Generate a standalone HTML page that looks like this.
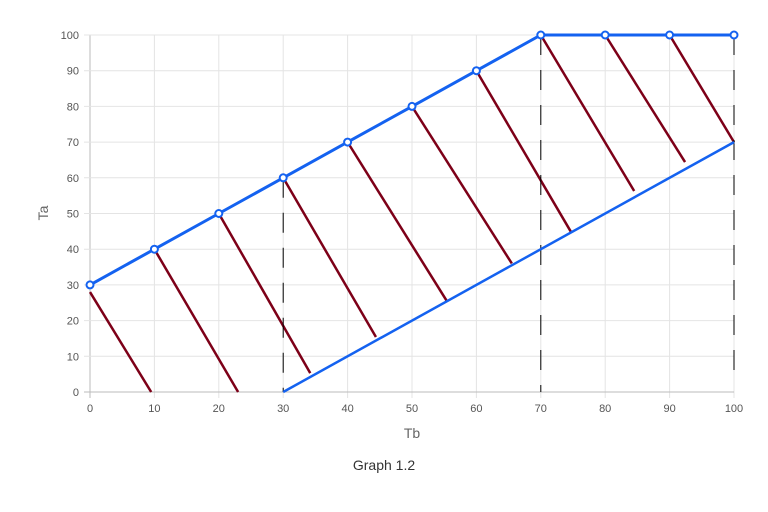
<!DOCTYPE html>
<html><head><meta charset="utf-8"><style>
html,body{margin:0;padding:0;background:#fff;width:768px;height:512px;overflow:hidden}
text{font-family:"Liberation Sans",Arial,sans-serif}
</style></head><body>
<svg id="chart" width="768" height="512" xmlns="http://www.w3.org/2000/svg">
<g id="grid"></g>
<g id="ticks"></g>
<g id="series"></g>
<text x="412" y="438" font-size="14" fill="#666" text-anchor="middle">Tb</text>
<text x="48" y="213" font-size="14" fill="#666" text-anchor="middle" transform="rotate(-90 48 213)">Ta</text>
<text x="384" y="470" font-size="14" fill="#333" text-anchor="middle">Graph 1.2</text>
</svg>
<script>
const xTicks=[0,10,20,30,40,50,60,70,80,90,100];
const yTicks=[0,10,20,30,40,50,60,70,80,90,100];
const upperX=[0,10,20,30,40,50,60,70,80,90,100];
const upperY=[30,40,50,60,70,80,90,100,100,100,100];
const lowerX=[30,100];
const lowerY=[0,70];
const dashX=[30,70,100];
const dashTop=[60,100,100];
const dashBottom=[0,0,3];
const redX1=[0,10,20,30,40,50,60,70,80,90];
const redY1=[28,40,50,60,70,80,90,100,100,100];
const redX2=[9.5,23,34.2,44.4,55.4,65.5,74.7,84.5,92.4,100];
const redY2=[0,0,5.3,15.4,25.5,36,44.8,56.3,64.4,70];
const X0=90,X1=734,Y0=392,Y1=35;
const sx=v=>X0+(v-0)/100*(X1-X0);
const sy=v=>Y0-(v-0)/100*(Y0-Y1);
const NS="http://www.w3.org/2000/svg";
function mk(tag,attrs,parent){const e=document.createElementNS(NS,tag);for(const k in attrs)e.setAttribute(k,attrs[k]);parent.appendChild(e);return e;}
const grid=document.getElementById('grid'),ticks=document.getElementById('ticks'),series=document.getElementById('series');
xTicks.forEach(t=>{
  const l=mk('line',{x1:sx(t),x2:sx(t),y1:Y1,y2:Y0+6,stroke:t===0?'#bbb':'#e4e4e4','stroke-width':1},grid);
  
  
  const tx=mk('text',{x:sx(t),y:Y0+20,'font-size':11,fill:'#555','text-anchor':'middle'},ticks);
  tx.textContent=t;
  
  
});
yTicks.forEach(t=>{
  const l=mk('line',{x1:X0-6,x2:X1,y1:sy(t),y2:sy(t),stroke:t===0?'#bbb':'#e4e4e4','stroke-width':1},grid);
  
  
  const tx=mk('text',{x:X0-11,y:sy(t)+4,'font-size':11,fill:'#555','text-anchor':'end'},ticks);
  tx.textContent=t;
  
  
});
redX1.forEach((v,i)=>{
  const l=mk('line',{x1:sx(v),y1:sy(redY1[i]),x2:sx(redX2[i]),y2:sy(redY2[i]),stroke:'#7d0018','stroke-width':2.5},series);
  
  
});
dashX.forEach((v,i)=>{
  const l=mk('line',{x1:sx(v),y1:sy(dashTop[i]),x2:sx(v),y2:sy(dashBottom[i]),stroke:'#000','stroke-width':1,'stroke-dasharray':'20,15'},series);
  
  
});
const low=mk('polyline',{points:lowerX.map((v,i)=>sx(v)+','+sy(lowerY[i])).join(' '),fill:'none',stroke:'#1462f0','stroke-width':2.5},series);


const up=mk('polyline',{points:upperX.map((v,i)=>sx(v)+','+sy(upperY[i])).join(' '),fill:'none',stroke:'#1462f0','stroke-width':3},series);


upperX.forEach((v,i)=>{
  const c=mk('circle',{cx:sx(v),cy:sy(upperY[i]),r:3.5,fill:'#fff',stroke:'#1462f0','stroke-width':2},series);
  
  
});
</script>
</body></html>
